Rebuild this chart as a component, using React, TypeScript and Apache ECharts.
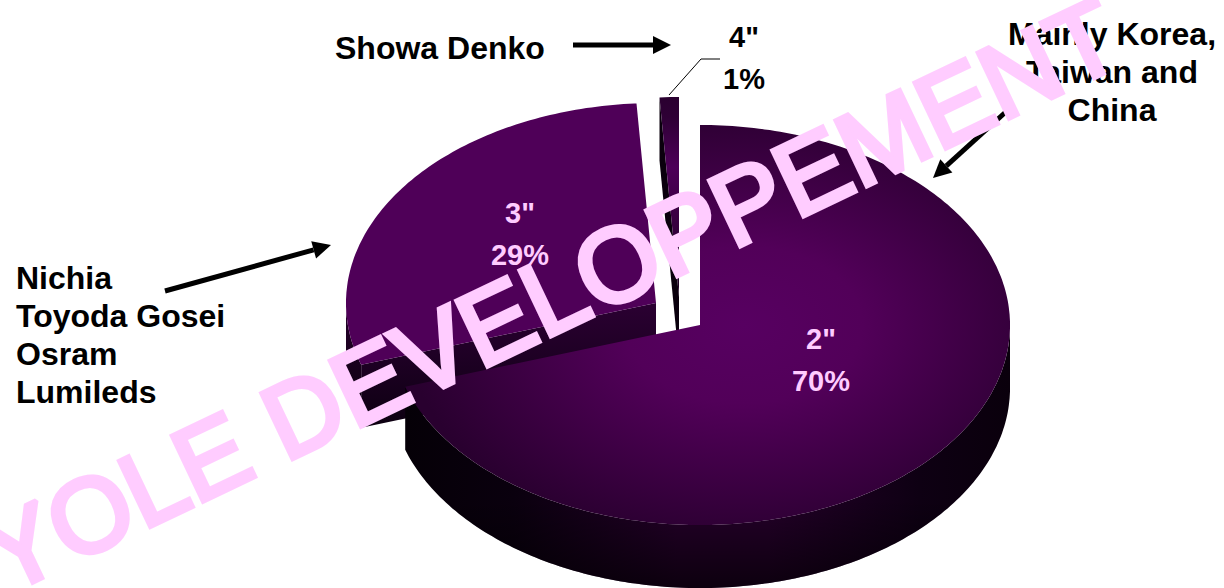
import React, { useEffect, useRef } from "react";
import * as echarts from "echarts";

// Data, listed back-to-front (the pie starts where the largest slice ends)
const categories = ['3"', '4"', '2"'];
const shares = [29, 1, 70];
const sideNotes = ["Nichia\nToyoda Gosei\nOsram\nLumileds", "Showa Denko", "Mainly Korea,\nTaiwan and\nChina"];
const watermark = "YOLE DEVELOPPEMENT";

// Layout of the tilted pie
const RX = 310;
const RY = 200;
const DEPTH = 63;
const apexes = [[656, 303], [679, 297], [700, 325]];
const FONT = '"Liberation Sans", Arial, sans-serif';
const PINK = "#ffccff";

const pt = (a: number[], deg: number, dy = 0) => {
  const t = (deg * Math.PI) / 180;
  return [a[0] + RX * Math.sin(t), a[1] - RY * Math.cos(t) + dy];
};
const toPath = (pts: number[][]) =>
  "M" + pts.map((p) => p[0].toFixed(1) + " " + p[1].toFixed(1)).join("L") + "Z";

const linear = (vertical: boolean, stops: [number, string][], extra: any = {}) => ({
  type: "linear",
  x: 0,
  y: 0,
  x2: vertical ? 0 : 1,
  y2: vertical ? 1 : 0,
  colorStops: stops.map(([offset, color]) => ({ offset, color })),
  ...extra,
});

const topFills: any[] = [
  "#4f0058",
  linear(true, [[0, "#2a0030"], [0.1, "#2e0035"], [0.35, "#4d0058"], [0.6, "#3a0042"], [1, "#1a0020"]]),
  {
    type: "radial",
    x: 0.56,
    y: 0.5,
    r: 0.56,
    colorStops: [
      { offset: 0, color: "#570061" },
      { offset: 0.35, color: "#520059" },
      { offset: 1, color: "#29002f" },
    ],
  },
];
const wallFills: any[] = [
  linear(true, [[0, "#26002b"], [1, "#0a000d"]]),
  "#0e0012",
  linear(false, [[0, "#050007"], [0.18, "#0a000e"], [0.45, "#240029"], [0.6, "#240029"], [0.85, "#0e0013"], [1, "#0a000c"]]),
];
const cutFills: any[] = [linear(true, [[0, "#2b0032"], [0.5, "#1c0022"], [1, "#0c0010"]]), "#0a000d", "#000"];
const labelStyles = [
  { x: 520, y: 234, fill: PINK },
  { x: 744, y: 58, fill: "#000000" },
  { x: 821, y: 360, fill: PINK },
];

const total = shares.reduce((s, v) => s + v, 0);
const startShare = shares[2];

const renderItem = (params: any, api: any) => {
  const i = params.dataIndex;
  const value = api.value(0);
  let before = startShare;
  for (let k = 0; k < i; k++) before += shares[k];
  const a0 = (before / total) * 360;
  const a1 = a0 + (value / total) * 360;
  const apex = apexes[i];
  const children: any[] = [];

  // outer wall: the arc's part that faces the viewer
  const arc: number[] = [];
  for (let d = a0; d < a1; d += 1) arc.push(d);
  arc.push(a1);
  const front = arc.filter((d) => Math.cos((d * Math.PI) / 180) < 0);
  if (front.length > 1) {
    const upper = front.map((d) => pt(apex, d));
    const lower = front.map((d) => pt(apex, d, DEPTH)).reverse();
    const d = toPath([...upper, ...lower]);
    children.push({ type: "path", shape: { pathData: d }, style: { fill: wallFills[i] } });
    if (i === 2) {
      children.push({
        type: "path",
        shape: { pathData: d },
        style: {
          fill: {
            type: "linear",
            global: true,
            x: 0,
            y: 500,
            x2: 0,
            y2: 588,
            colorStops: [
              { offset: 0, color: "rgba(0,0,0,0)" },
              { offset: 1, color: "rgba(0,0,0,0.65)" },
            ],
          },
        },
      });
    }
  }

  // the cut face that shows on the start side
  if (a0 > 180 && a0 < 360) {
    const e = pt(apex, a0);
    const face = [e, apex, [apex[0], apex[1] + DEPTH], [e[0], e[1] + DEPTH]];
    children.push({ type: "path", shape: { pathData: toPath(face) }, style: { fill: cutFills[i] } });
  }

  // top face
  const rim = arc.map((d) => pt(apex, d));
  children.push({
    type: "path",
    shape: { pathData: toPath([apex, ...rim]) },
    style: { fill: topFills[i] },
  });

  children.push({
    type: "text",
    z2: 20,
    style: {
      text: `${categories[i]}\n${value}%`,
      x: labelStyles[i].x,
      y: labelStyles[i].y,
      align: "center",
      verticalAlign: "middle",
      fill: labelStyles[i].fill,
      font: `bold 29px ${FONT}`,
      lineHeight: 42,
    },
  });
  return { type: "group", children };
};

const arrow = (x1: number, y1: number, x2: number, y2: number) => {
  const len = Math.hypot(x2 - x1, y2 - y1);
  const ux = (x2 - x1) / len;
  const uy = (y2 - y1) / len;
  const bx = x2 - ux * 18;
  const by = y2 - uy * 18;
  return [
    { type: "line", z: 5, shape: { x1, y1, x2: bx, y2: by }, style: { stroke: "#000", lineWidth: 5 } },
    {
      type: "polygon",
      z: 5,
      shape: {
        points: [
          [x2, y2],
          [bx - uy * 9, by + ux * 9],
          [bx + uy * 9, by - ux * 9],
        ],
      },
      style: { fill: "#000" },
    },
  ];
};

const note = (text: string, x: number, y: number, align: string) => ({
  type: "text",
  z: 5,
  x,
  y,
  style: { text, align, verticalAlign: "middle", fill: "#000", font: `bold 32px ${FONT}`, lineHeight: 38 },
});

export default function App() {
  const ref = useRef<HTMLDivElement>(null);
  useEffect(() => {
    document.body.style.margin = "0";
    document.body.style.overflow = "hidden";
    const chart = echarts.init(ref.current!, null, { renderer: "svg" });
    chart.setOption({
      animation: false,
      backgroundColor: "#fff",
      series: [
        {
          type: "custom",
          coordinateSystem: "none",
          silent: true,
          clip: false,
          renderItem,
          data: shares.map((v) => [v]),
        },
      ],
      graphic: {
        elements: [
          note(sideNotes[0], 16, 335, "left"),
          note(sideNotes[1], 335, 48, "left"),
          note(sideNotes[2], 1112, 72, "center"),
          ...arrow(573, 45, 671, 45),
          ...arrow(165, 291, 331, 245),
          ...arrow(1009, 109, 933, 178),
          {
            type: "polyline",
            z: 5,
            shape: { points: [[669, 95], [701, 59], [720, 59]] },
            style: { stroke: "#000", lineWidth: 1, fill: "none" },
          },
          {
            type: "text",
            z: 100,
            x: -10,
            y: 562,
            rotation: (25.4 * Math.PI) / 180,
            style: {
              text: watermark,
              align: "left",
              verticalAlign: "middle",
              fill: PINK,
              stroke: PINK,
              lineWidth: 5,
              font: `105px ${FONT}`,
            },
          },
        ],
      },
    });
    return () => chart.dispose();
  }, []);
  return <div ref={ref} style={{ position: "absolute", left: 0, top: 0, width: 1224, height: 588 }} />;
}
